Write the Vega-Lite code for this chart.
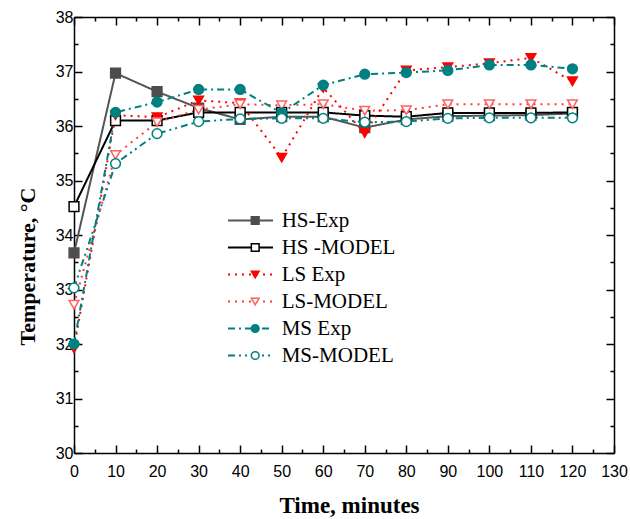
{
  "$schema": "https://vega.github.io/schema/vega-lite/v6.json",
  "width": 540,
  "height": 436,
  "autosize": {"type": "none"},
  "padding": {"left": 74, "top": 17, "right": 16, "bottom": 66},
  "background": "white",
  "config": {
    "view": {"stroke": null},
    "axis": {
      "grid": false,
      "domainColor": "black",
      "domainWidth": 1.5,
      "tickColor": "black",
      "tickWidth": 1.5,
      "labelFont": "Liberation Sans",
      "labelFontSize": 16,
      "labelColor": "black",
      "labelFlush": false,
      "labelOverlap": false,
      "titleFont": "Liberation Serif",
      "titleFontSize": 22,
      "titleFontWeight": "bold",
      "titleColor": "black"
    }
  },
  "data": {
    "values": [
      {"t": 0, "series": "HS-Exp", "seriesOrder": 1, "temp": 33.67},
      {"t": 10, "series": "HS-Exp", "seriesOrder": 1, "temp": 36.97},
      {"t": 20, "series": "HS-Exp", "seriesOrder": 1, "temp": 36.63},
      {"t": 30, "series": "HS-Exp", "seriesOrder": 1, "temp": 36.33},
      {"t": 40, "series": "HS-Exp", "seriesOrder": 1, "temp": 36.12},
      {"t": 50, "series": "HS-Exp", "seriesOrder": 1, "temp": 36.17},
      {"t": 60, "series": "HS-Exp", "seriesOrder": 1, "temp": 36.17},
      {"t": 70, "series": "HS-Exp", "seriesOrder": 1, "temp": 35.97},
      {"t": 80, "series": "HS-Exp", "seriesOrder": 1, "temp": 36.12},
      {"t": 90, "series": "HS-Exp", "seriesOrder": 1, "temp": 36.18},
      {"t": 100, "series": "HS-Exp", "seriesOrder": 1, "temp": 36.19},
      {"t": 110, "series": "HS-Exp", "seriesOrder": 1, "temp": 36.2},
      {"t": 120, "series": "HS-Exp", "seriesOrder": 1, "temp": 36.23},

      {"t": 0, "series": "HS -MODEL", "seriesOrder": 2, "temp": 34.52},
      {"t": 10, "series": "HS -MODEL", "seriesOrder": 2, "temp": 36.1},
      {"t": 20, "series": "HS -MODEL", "seriesOrder": 2, "temp": 36.1},
      {"t": 30, "series": "HS -MODEL", "seriesOrder": 2, "temp": 36.25},
      {"t": 40, "series": "HS -MODEL", "seriesOrder": 2, "temp": 36.25},
      {"t": 50, "series": "HS -MODEL", "seriesOrder": 2, "temp": 36.25},
      {"t": 60, "series": "HS -MODEL", "seriesOrder": 2, "temp": 36.25},
      {"t": 70, "series": "HS -MODEL", "seriesOrder": 2, "temp": 36.19},
      {"t": 80, "series": "HS -MODEL", "seriesOrder": 2, "temp": 36.17},
      {"t": 90, "series": "HS -MODEL", "seriesOrder": 2, "temp": 36.24},
      {"t": 100, "series": "HS -MODEL", "seriesOrder": 2, "temp": 36.24},
      {"t": 110, "series": "HS -MODEL", "seriesOrder": 2, "temp": 36.24},
      {"t": 120, "series": "HS -MODEL", "seriesOrder": 2, "temp": 36.25},

      {"t": 0, "series": "LS Exp", "seriesOrder": 3, "temp": 31.92},
      {"t": 10, "series": "LS Exp", "seriesOrder": 3, "temp": 36.2},
      {"t": 20, "series": "LS Exp", "seriesOrder": 3, "temp": 36.16},
      {"t": 30, "series": "LS Exp", "seriesOrder": 3, "temp": 36.47},
      {"t": 40, "series": "LS Exp", "seriesOrder": 3, "temp": 36.42},
      {"t": 50, "series": "LS Exp", "seriesOrder": 3, "temp": 35.42},
      {"t": 60, "series": "LS Exp", "seriesOrder": 3, "temp": 36.7},
      {"t": 70, "series": "LS Exp", "seriesOrder": 3, "temp": 35.87},
      {"t": 80, "series": "LS Exp", "seriesOrder": 3, "temp": 37.02},
      {"t": 90, "series": "LS Exp", "seriesOrder": 3, "temp": 37.08},
      {"t": 100, "series": "LS Exp", "seriesOrder": 3, "temp": 37.15},
      {"t": 110, "series": "LS Exp", "seriesOrder": 3, "temp": 37.25},
      {"t": 120, "series": "LS Exp", "seriesOrder": 3, "temp": 36.82},

      {"t": 0, "series": "LS-MODEL", "seriesOrder": 4, "temp": 32.72},
      {"t": 10, "series": "LS-MODEL", "seriesOrder": 4, "temp": 35.47},
      {"t": 20, "series": "LS-MODEL", "seriesOrder": 4, "temp": 36.07},
      {"t": 30, "series": "LS-MODEL", "seriesOrder": 4, "temp": 36.3},
      {"t": 40, "series": "LS-MODEL", "seriesOrder": 4, "temp": 36.4},
      {"t": 50, "series": "LS-MODEL", "seriesOrder": 4, "temp": 36.38},
      {"t": 60, "series": "LS-MODEL", "seriesOrder": 4, "temp": 36.4},
      {"t": 70, "series": "LS-MODEL", "seriesOrder": 4, "temp": 36.28},
      {"t": 80, "series": "LS-MODEL", "seriesOrder": 4, "temp": 36.29},
      {"t": 90, "series": "LS-MODEL", "seriesOrder": 4, "temp": 36.4},
      {"t": 100, "series": "LS-MODEL", "seriesOrder": 4, "temp": 36.4},
      {"t": 110, "series": "LS-MODEL", "seriesOrder": 4, "temp": 36.4},
      {"t": 120, "series": "LS-MODEL", "seriesOrder": 4, "temp": 36.4},

      {"t": 0, "series": "MS Exp", "seriesOrder": 5, "temp": 32.0},
      {"t": 10, "series": "MS Exp", "seriesOrder": 5, "temp": 36.25},
      {"t": 20, "series": "MS Exp", "seriesOrder": 5, "temp": 36.44},
      {"t": 30, "series": "MS Exp", "seriesOrder": 5, "temp": 36.67},
      {"t": 40, "series": "MS Exp", "seriesOrder": 5, "temp": 36.67},
      {"t": 50, "series": "MS Exp", "seriesOrder": 5, "temp": 36.24},
      {"t": 60, "series": "MS Exp", "seriesOrder": 5, "temp": 36.75},
      {"t": 70, "series": "MS Exp", "seriesOrder": 5, "temp": 36.95},
      {"t": 80, "series": "MS Exp", "seriesOrder": 5, "temp": 36.98},
      {"t": 90, "series": "MS Exp", "seriesOrder": 5, "temp": 37.02},
      {"t": 100, "series": "MS Exp", "seriesOrder": 5, "temp": 37.12},
      {"t": 110, "series": "MS Exp", "seriesOrder": 5, "temp": 37.12},
      {"t": 120, "series": "MS Exp", "seriesOrder": 5, "temp": 37.05},

      {"t": 0, "series": "MS-MODEL", "seriesOrder": 6, "temp": 33.03},
      {"t": 10, "series": "MS-MODEL", "seriesOrder": 6, "temp": 35.31},
      {"t": 20, "series": "MS-MODEL", "seriesOrder": 6, "temp": 35.86},
      {"t": 30, "series": "MS-MODEL", "seriesOrder": 6, "temp": 36.08},
      {"t": 40, "series": "MS-MODEL", "seriesOrder": 6, "temp": 36.13},
      {"t": 50, "series": "MS-MODEL", "seriesOrder": 6, "temp": 36.14},
      {"t": 60, "series": "MS-MODEL", "seriesOrder": 6, "temp": 36.14},
      {"t": 70, "series": "MS-MODEL", "seriesOrder": 6, "temp": 36.07},
      {"t": 80, "series": "MS-MODEL", "seriesOrder": 6, "temp": 36.08},
      {"t": 90, "series": "MS-MODEL", "seriesOrder": 6, "temp": 36.14},
      {"t": 100, "series": "MS-MODEL", "seriesOrder": 6, "temp": 36.15},
      {"t": 110, "series": "MS-MODEL", "seriesOrder": 6, "temp": 36.15},
      {"t": 120, "series": "MS-MODEL", "seriesOrder": 6, "temp": 36.15}
    ]
  },
  "resolve": {"axis": {"x": "independent", "y": "independent"}},
  "layer": [
    {
      "description": "connecting lines, one per series; bottom/left major axes with labels",
      "mark": {"type": "line", "strokeWidth": 2},
      "encoding": {
        "x": {
          "field": "t", "type": "quantitative",
          "scale": {"domain": [0, 130], "nice": false, "zero": false},
          "axis": {
            "orient": "bottom", "title": "Time, minutes", "titleFontSize": 23, "titleX": 275,
            "values": [0, 10, 20, 30, 40, 50, 60, 70, 80, 90, 100, 110, 120, 130],
            "tickSize": -8, "labelPadding": 18, "titlePadding": 15
          }
        },
        "y": {
          "field": "temp", "type": "quantitative",
          "scale": {"domain": [30, 38], "nice": false, "zero": false},
          "axis": {
            "orient": "left", "title": "Temperature, °C", "titleY": 249,
            "values": [30, 31, 32, 33, 34, 35, 36, 37, 38],
            "tickSize": -8, "labelPadding": 9, "titlePadding": 16
          }
        },
        "color": {
          "field": "series", "type": "nominal",
          "scale": {
            "domain": ["HS-Exp", "HS -MODEL", "LS Exp", "LS-MODEL", "MS Exp", "MS-MODEL"],
            "range": ["#555555", "#000000", "#ff0000", "#ff3b3b", "#008080", "#008080"]
          },
          "legend": {
            "orient": "none", "legendX": 166, "legendY": 193, "title": null, "padding": 0,
            "symbolType": "M-3,0H3", "symbolSize": 225, "symbolStrokeWidth": 2,
            "labelFont": "Liberation Serif", "labelFontSize": 21, "labelExpr": "''",
            "rowPadding": 5, "labelLimit": 300
          }
        },
        "strokeDash": {
          "field": "series", "type": "nominal",
          "scale": {
            "domain": ["HS-Exp", "HS -MODEL", "LS Exp", "LS-MODEL", "MS Exp", "MS-MODEL"],
            "range": [[1, 0], [1, 0], [2, 5], [2, 5], [7, 4, 2, 4], [7, 4, 2, 4, 2, 4]]
          },
          "legend": {
            "orient": "none", "legendX": 166, "legendY": 193, "title": null, "padding": 0,
            "symbolType": "M-3,0H3", "symbolSize": 225, "symbolStrokeWidth": 2,
            "labelFont": "Liberation Serif", "labelFontSize": 21, "labelExpr": "''",
            "rowPadding": 5, "labelLimit": 300
          }
        }
      }
    },
    {
      "description": "markers; bottom/left minor ticks",
      "mark": {"type": "point", "opacity": 1, "size": 95, "strokeWidth": 1.5},
      "encoding": {
        "x": {
          "field": "t", "type": "quantitative",
          "axis": {
            "orient": "bottom", "title": null, "labels": false, "domain": false,
            "values": [5, 15, 25, 35, 45, 55, 65, 75, 85, 95, 105, 115, 125], "tickSize": -4
          }
        },
        "y": {
          "field": "temp", "type": "quantitative",
          "axis": {
            "orient": "left", "title": null, "labels": false, "domain": false,
            "values": [30.5, 31.5, 32.5, 33.5, 34.5, 35.5, 36.5, 37.5], "tickSize": -4
          }
        },
        "shape": {
          "field": "series", "type": "nominal",
          "sort": {"field": "seriesOrder", "op": "min"},
          "scale": {"range": ["square", "square", "triangle-down", "triangle-down", "circle", "circle"]},
          "legend": {
            "orient": "none", "legendX": 170.7, "legendY": 193, "title": null, "padding": 0,
            "symbolSize": 60, "symbolStrokeWidth": 1.5,
            "labelFont": "Liberation Serif", "labelFontSize": 21, "labelColor": "black",
            "labelOffset": 16, "rowPadding": 5, "labelLimit": 300
          }
        },
        "fill": {
          "field": "series", "type": "nominal",
          "sort": {"field": "seriesOrder", "op": "min"},
          "scale": {"range": ["#4d4d4d", "#ffffff", "#ff0000", "#ffffff", "#008080", "#ffffff"]},
          "legend": {
            "orient": "none", "legendX": 170.7, "legendY": 193, "title": null, "padding": 0,
            "symbolSize": 60, "symbolStrokeWidth": 1.5,
            "labelFont": "Liberation Serif", "labelFontSize": 21, "labelColor": "black",
            "labelOffset": 16, "rowPadding": 5, "labelLimit": 300
          }
        },
        "stroke": {
          "field": "series", "type": "nominal",
          "sort": {"field": "seriesOrder", "op": "min"},
          "scale": {"range": ["#4d4d4d", "#000000", "#ff0000", "#ff6060", "#008080", "#008080"]},
          "legend": {
            "orient": "none", "legendX": 170.7, "legendY": 193, "title": null, "padding": 0,
            "symbolSize": 60, "symbolStrokeWidth": 1.5,
            "labelFont": "Liberation Serif", "labelFontSize": 21, "labelColor": "black",
            "labelOffset": 16, "rowPadding": 5, "labelLimit": 300
          }
        }
      }
    },
    {
      "description": "top/right frame with major ticks",
      "mark": {"type": "point", "opacity": 0},
      "encoding": {
        "x": {
          "field": "t", "type": "quantitative",
          "axis": {
            "orient": "top", "title": null, "labels": false,
            "values": [0, 10, 20, 30, 40, 50, 60, 70, 80, 90, 100, 110, 120, 130], "tickSize": -8
          }
        },
        "y": {
          "field": "temp", "type": "quantitative",
          "axis": {
            "orient": "right", "title": null, "labels": false,
            "values": [30, 31, 32, 33, 34, 35, 36, 37, 38], "tickSize": -8
          }
        }
      }
    },
    {
      "description": "top/right minor ticks",
      "mark": {"type": "point", "opacity": 0},
      "encoding": {
        "x": {
          "field": "t", "type": "quantitative",
          "axis": {
            "orient": "top", "title": null, "labels": false, "domain": false,
            "values": [5, 15, 25, 35, 45, 55, 65, 75, 85, 95, 105, 115, 125], "tickSize": -4
          }
        },
        "y": {
          "field": "temp", "type": "quantitative",
          "axis": {
            "orient": "right", "title": null, "labels": false, "domain": false,
            "values": [30.5, 31.5, 32.5, 33.5, 34.5, 35.5, 36.5, 37.5], "tickSize": -4
          }
        }
      }
    }
  ]
}
